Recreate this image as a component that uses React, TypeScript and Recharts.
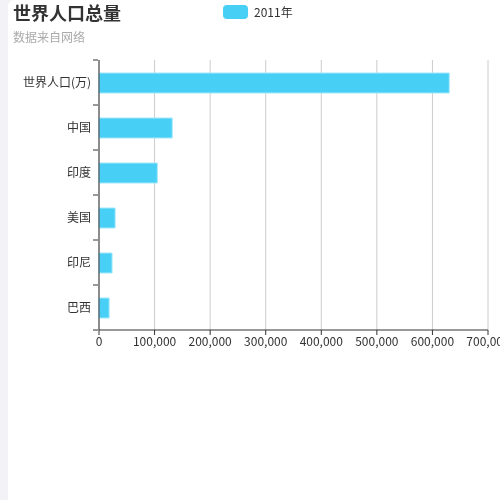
import { Bar, BarChart, CartesianGrid, XAxis, YAxis } from "recharts";

const countries = ["世界人口(万)", "中国", "印度", "美国", "印尼", "巴西"];
const population2011 = [630230, 131744, 104970, 29034, 23489, 18203];
const xTicks = [0, 100000, 200000, 300000, 400000, 500000, 600000, 700000];

const data = countries.map((name, i) => ({ name, y2011: population2011[i] }));

const FONT = '"Noto Sans CJK SC", "Noto Sans", sans-serif';
const PLOT_TOP = 60;
const PLOT_BOTTOM = 330;
const HALF_BAND = (PLOT_BOTTOM - PLOT_TOP) / countries.length / 2;

function CategoryTick(props: any) {
  const { x, y, payload, index } = props;
  const axisX = x + 7;
  return (
    <g>
      <line x1={axisX - 5} x2={axisX} y1={y - HALF_BAND} y2={y - HALF_BAND} stroke="#333" />
      {index === countries.length - 1 && (
        <line x1={axisX - 5} x2={axisX} y1={y + HALF_BAND} y2={y + HALF_BAND} stroke="#333" />
      )}
      <text x={x} y={y} dy="0.35em" textAnchor="end" fill="#333" fontSize={12} fontFamily={FONT}>
        {payload.value}
      </text>
    </g>
  );
}

export default function App() {
  return (
    <div style={{ position: "fixed", left: 0, top: 0, width: 500, height: 500, background: "#f2f2f7" }}>
      <div style={{ position: "absolute", left: 8, top: 0, width: 500, height: 500, background: "#fff", borderTopLeftRadius: 6 }} />
      <div style={{ position: "absolute", left: 13, top: 0, fontFamily: FONT, fontSize: 18, fontWeight: 700, color: "#333", lineHeight: "24px" }}>
        世界人口总量
      </div>
      <div style={{ position: "absolute", left: 13, top: 29, fontFamily: FONT, fontSize: 12, color: "#aaa", lineHeight: "16px" }}>
        数据来自网络
      </div>
      {/* legend */}
      <div style={{ position: "absolute", left: 223, top: 5, display: "flex", alignItems: "center", fontFamily: FONT, fontSize: 12, color: "#333", lineHeight: "14px" }}>
        <span style={{ width: 25, height: 14, borderRadius: 4, background: "#47cff5", marginRight: 6 }} />
        2011年
      </div>
      <div style={{ position: "absolute", left: 0, top: 0 }}>
        <BarChart
          width={500}
          height={500}
          data={data}
          layout="vertical"
          margin={{ top: PLOT_TOP, right: 12, left: 0, bottom: 500 - PLOT_BOTTOM - 30 }}
        >
          <CartesianGrid horizontal={false} stroke="#ccc" />
          <XAxis
            type="number"
            domain={[0, 700000]}
            ticks={xTicks}
            interval={0}
            height={30}
            stroke="#333"
            tickSize={5}
            tick={{ fill: "#333", fontSize: 12, fontFamily: FONT }}
            tickFormatter={(v: number) => v.toLocaleString("en-US")}
          />
          <YAxis
            type="category"
            dataKey="name"
            width={99}
            stroke="#333"
            tickLine={false}
            tick={<CategoryTick />}
          />
          <Bar
            dataKey="y2011"
            name="2011年"
            fill="#47cff5"
            stroke="#a3e7fa"
            strokeWidth={1}
            barSize={20}
            isAnimationActive={false}
          />
        </BarChart>
      </div>
    </div>
  );
}
